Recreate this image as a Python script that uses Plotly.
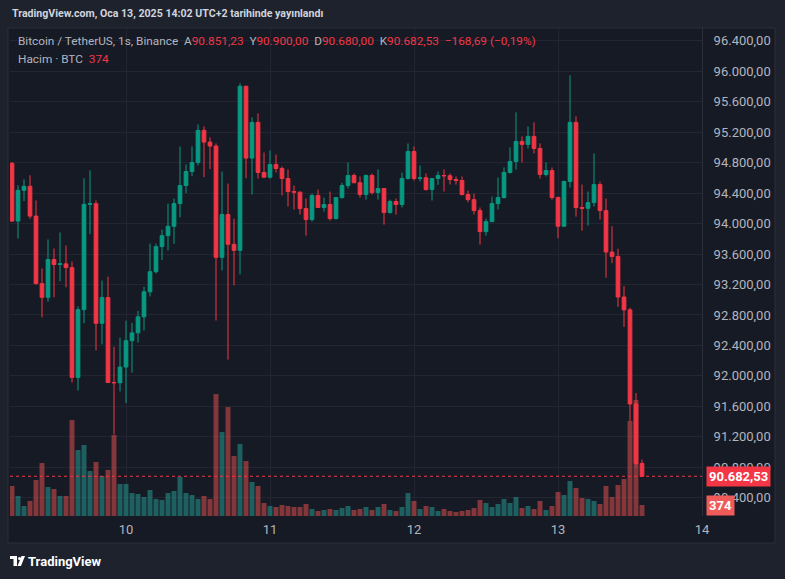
import pandas as pd
import plotly.graph_objects as go

# hourly BTCUSDT candles, Jan 9 05:00 -> Jan 13 14:00 (UTC+2)
times = pd.date_range("2025-01-09 05:00", periods=106, freq="h")

opens = [
    94791, 94033, 94436, 94489, 94098, 93212, 93032, 93528, 93462, 93471,
    93422, 91980, 92870, 94252, 94261, 92690, 93028, 91914, 91910, 92116,
    92462, 92565, 92775, 93104, 93368, 93697, 93841, 93965, 94262, 94499,
    94683, 94802, 95223, 95069, 95017, 93556, 94118, 93727, 93648, 95802,
    94859, 95328, 94670, 94609, 94775, 94723, 94591, 94420, 94412, 94196,
    94052, 94368, 94210, 94250, 94065, 94341, 94499, 94631, 94536, 94381,
    94631, 94407, 94460, 94144, 94289, 94250, 94591, 94946, 94591, 94600,
    94446, 94591, 94631, 94627, 94578, 94565, 94381, 94314, 94170, 93894,
    94025, 94262, 94341, 94670, 94815, 95078, 95039, 95144, 94986, 94644,
    94696, 94341, 93965, 94552, 95328, 94210, 94200, 94275, 94512, 94170,
    93626, 93568, 93036, 92867, 91631, 90851.23,
]
highs = [
    94808, 94502, 94581, 94633, 94304, 93410, 93791, 93673, 93883, 93712,
    93502, 92914, 94594, 94699, 94304, 93252, 93304, 92383, 92502, 92725,
    92696, 92854, 93170, 93736, 93736, 93920, 94262, 94328, 95012, 94775,
    95012, 95302, 95275, 95131, 95052, 94683, 94525, 94065, 95841, 95810,
    95394, 95446, 94933, 94960, 94907, 94750, 94710, 94499, 94420, 94328,
    94394, 94446, 94341, 94420, 94345, 94536, 94802, 94657, 94618, 94644,
    94657, 94710, 94465, 94315, 94328, 94670, 95052, 95012, 94762, 94657,
    94595, 94683, 94710, 94657, 94618, 94618, 94433, 94394, 94210, 94065,
    94354, 94604, 94736, 95000, 95460, 95144, 95275, 95328, 95052, 94802,
    94736, 94354, 94565, 95946, 95407, 94512, 94420, 94920, 94552, 94328,
    93965, 93670, 93178, 92894, 91775, 90900,
]
lows = [
    94020, 93804, 94296, 94063, 93199, 92769, 92975, 93032, 93243, 93164,
    91914, 91809, 92690, 93861, 92335, 92414, 91905, 91230, 91796, 91642,
    92043, 92438, 92596, 93043, 93345, 93522, 93648, 93734, 94082, 94398,
    94621, 94762, 94609, 94714, 92727, 93385, 92214, 93188, 93332, 94596,
    94381, 94591, 94600, 94591, 94670, 94368, 94223, 94183, 94118, 93841,
    94025, 94205, 94157, 94039, 94052, 94327, 94460, 94530, 94341, 94314,
    94381, 94314, 93986, 94131, 94117, 94210, 94578, 94565, 94552, 94433,
    94302, 94508, 94420, 94512, 94512, 94368, 94280, 94117, 93723, 93841,
    94020, 94183, 94328, 94657, 94709, 94802, 94986, 94920, 94591, 94618,
    94314, 93807, 93960, 94473, 94091, 93905, 93973, 94223, 94052, 93289,
    93480, 92906, 92644, 91398, 90810, 90680,
]
closes = [
    94033, 94436, 94489, 94098, 93212, 93032, 93528, 93462, 93471, 93422,
    91980, 92870, 94252, 94261, 92690, 93028, 91914, 91910, 92116, 92462,
    92565, 92775, 93104, 93368, 93697, 93841, 93965, 94262, 94499, 94683,
    94802, 95223, 95069, 95017, 93556, 94118, 93727, 93648, 95802, 94859,
    95328, 94670, 94609, 94775, 94723, 94591, 94420, 94412, 94196, 94052,
    94368, 94210, 94250, 94065, 94341, 94499, 94631, 94536, 94381, 94631,
    94407, 94460, 94144, 94289, 94250, 94591, 94946, 94591, 94600, 94446,
    94591, 94631, 94627, 94578, 94565, 94381, 94314, 94170, 93894, 94025,
    94262, 94341, 94670, 94815, 95078, 95039, 95144, 94986, 94644, 94696,
    94341, 93965, 94552, 95328, 94210, 94200, 94275, 94512, 94170, 93626,
    93568, 93036, 92867, 91631, 90851.23, 90682.53,
]
volumes = [
    1020, 680, 340, 510, 1224, 1802, 986, 918, 680, 680,
    3264, 2244, 2414, 1530, 1836, 1360, 1564, 2754, 1088, 1088,
    782, 748, 646, 884, 578, 544, 782, 850, 1326, 782,
    714, 578, 680, 578, 4148, 2856, 3706, 2040, 2448, 1870,
    1156, 1020, 442, 340, 306, 374, 340, 306, 306, 408,
    238, 170, 204, 238, 204, 272, 340, 204, 238, 306,
    204, 306, 408, 204, 170, 306, 782, 510, 238, 340,
    306, 170, 238, 170, 136, 170, 204, 272, 544, 442,
    306, 408, 578, 442, 646, 272, 340, 238, 510, 204,
    340, 816, 714, 1190, 952, 612, 578, 510, 408, 1020,
    646, 1054, 1258, 3230, 3944, 374,
]

price_ticks = [90400, 90800, 91200, 91600, 92000, 92400, 92800, 93200,
               93600, 94000, 94400, 94800, 95200, 95600, 96000, 96400]
price_labels = ["90.400,00", "90.800,00", "91.200,00", "91.600,00",
                "92.000,00", "92.400,00", "92.800,00", "93.200,00",
                "93.600,00", "94.000,00", "94.400,00", "94.800,00",
                "95.200,00", "95.600,00", "96.000,00", "96.400,00"]
day_ticks = ["2025-01-10", "2025-01-11", "2025-01-12", "2025-01-13", "2025-01-14"]
day_labels = ["10", "11", "12", "13", "14"]

last_price = closes[-1]
last_volume = volumes[-1]

UP = "#089981"
DOWN = "#f23645"
BG = "#161a25"
OUTER = "#1e222d"
GRID = "#232632"
TEXT = "#b2b5be"
FONT = "Roboto"

# plot area in pixels
L, R, T, B = 10, 702, 28, 516
W, H = 785, 579


def paper(x, y):
    return (x - L) / (R - L), (B - y) / (B - T)


vol_colors = ["rgba(38,166,154,0.5)" if c >= o else "rgba(239,83,80,0.5)"
              for o, c in zip(opens, closes)]

fig = go.Figure()

fig.add_trace(go.Bar(
    x=times, y=volumes, marker_color=vol_colors, marker_line_width=0,
    yaxis="y", hoverinfo="skip", showlegend=False,
))

fig.add_trace(go.Candlestick(
    x=times, open=opens, high=highs, low=lows, close=closes,
    yaxis="y2", showlegend=False,
    increasing=dict(line=dict(color=UP, width=1), fillcolor=UP),
    decreasing=dict(line=dict(color=DOWN, width=1), fillcolor=DOWN),
))

x0, y0 = paper(8, 543)
x1, y1 = paper(775, 28)
shapes = [
    # chart frame
    dict(type="rect", xref="paper", yref="paper", x0=x0, y0=y0, x1=x1, y1=y1,
         fillcolor=BG, line=dict(color="#2a2e39", width=1), layer="below"),
    # last price line
    dict(type="line", xref="paper", yref="y2", x0=0, x1=1,
         y0=last_price, y1=last_price, line=dict(color=DOWN, width=1, dash="dot")),
]

# little TradingView logo
lx0, ly0 = paper(10, 566)
lx1, ly1 = paper(17, 556)
shapes.append(dict(type="rect", xref="paper", yref="paper",
                   x0=lx0, y0=paper(0, 559)[1], x1=lx1, y1=ly1,
                   fillcolor="#ffffff", line_width=0))
shapes.append(dict(type="rect", xref="paper", yref="paper",
                   x0=paper(13.5, 0)[0], y0=ly0, x1=lx1, y1=ly1,
                   fillcolor="#ffffff", line_width=0))
cx0, cy0 = paper(18, 560)
cx1, cy1 = paper(21, 557)
shapes.append(dict(type="circle", xref="paper", yref="paper",
                   x0=cx0, y0=cy0, x1=cx1, y1=cy1,
                   fillcolor="#ffffff", line_width=0))
pa, pb = paper(21.5, 556), paper(25, 556)
pc, pd_ = paper(21, 566), paper(17.5, 566)
shapes.append(dict(type="path", xref="paper", yref="paper",
                   path=f"M {pa[0]},{pa[1]} L {pb[0]},{pb[1]} L {pc[0]},{pc[1]} L {pd_[0]},{pd_[1]} Z",
                   fillcolor="#ffffff", line_width=0))

red = f"<span style='color:{DOWN}'>"
legend1 = ("Bitcoin / TetherUS, 1s, Binance&nbsp;&nbsp;"
           f"A{red}90.851,23</span>&nbsp;&nbsp;Y{red}90.900,00</span>&nbsp;&nbsp;"
           f"D{red}90.680,00</span>&nbsp;&nbsp;K{red}90.682,53</span>&nbsp;&nbsp;"
           f"{red}−168,69 (−0,19%)</span>")
legend2 = f"Hacim · BTC&nbsp;&nbsp;{red}{last_volume}</span>"

annotations = []
hx, hy = paper(10, 14)
annotations.append(dict(xref="paper", yref="paper", x=hx, y=hy,
                        xanchor="left", yanchor="middle", showarrow=False,
                        text="<b>TradingView.com, Oca 13, 2025 14:02 UTC+2 tarihinde yayınlandı</b>",
                        font=dict(family=FONT, size=10.6, color="#d1d4dc")))
ax_, ay_ = paper(16, 41)
annotations.append(dict(xref="paper", yref="paper", x=ax_, y=ay_,
                        xanchor="left", yanchor="middle", showarrow=False,
                        text=legend1, font=dict(family=FONT, size=11.8, color=TEXT)))
bx_, by_ = paper(16, 59)
annotations.append(dict(xref="paper", yref="paper", x=bx_, y=by_,
                        xanchor="left", yanchor="middle", showarrow=False,
                        text=legend2, font=dict(family=FONT, size=11.8, color=TEXT)))
tx, ty = paper(26, 561)
annotations.append(dict(xref="paper", yref="paper", x=tx, y=ty,
                        xanchor="left", yanchor="middle", showarrow=False,
                        text="<b>TradingView</b>",
                        font=dict(family=FONT, size=13, color="#ffffff")))
# axis labels for last price and last volume
annotations.append(dict(xref="paper", yref="y2", x=1, y=last_price, xshift=4,
                        xanchor="left", yanchor="middle", showarrow=False,
                        text="<b>90.682,53</b>", bgcolor=DOWN, borderpad=2,
                        font=dict(family=FONT, size=13, color="#ffffff")))
annotations.append(dict(xref="paper", yref="y", x=1, y=last_volume, xshift=4,
                        xanchor="left", yanchor="middle", showarrow=False,
                        text=f"<b>{last_volume}</b>", bgcolor="#ef5b58", borderpad=2,
                        font=dict(family=FONT, size=13, color="#ffffff")))

fig.update_layout(
    width=W, height=H,
    margin=dict(l=L, r=W - R, t=T, b=H - B),
    paper_bgcolor=OUTER, plot_bgcolor=BG,
    font=dict(family=FONT, size=13, color=TEXT),
    showlegend=False, hovermode=False,
    bargap=0.17, boxgap=0.12,
    shapes=shapes, annotations=annotations,
    xaxis=dict(
        type="date", range=["2025-01-09 04:40", "2025-01-14 00:00"],
        tickvals=day_ticks, ticktext=day_labels,
        showgrid=True, gridcolor=GRID, gridwidth=1,
        zeroline=False, showline=False, ticks="",
        ticklabelstandoff=4, rangeslider=dict(visible=False),
        tickfont=dict(family=FONT, size=13, color=TEXT),
    ),
    yaxis=dict(
        range=[0, 16600], visible=False, showgrid=False, fixedrange=True,
    ),
    yaxis2=dict(
        overlaying="y", side="right", range=[90161, 96567],
        tickvals=price_ticks, ticktext=price_labels,
        showgrid=True, gridcolor=GRID, gridwidth=1, zeroline=False,
        showline=True, linecolor="#2a2e39", linewidth=1, ticks="",
        ticklabelstandoff=8,
        tickfont=dict(family=FONT, size=13, color=TEXT),
    ),
)

fig.write_html(
    "out.html",
    config={"displayModeBar": False},
    post_script="document.body.style.margin='0';document.body.style.background='#1e222d';",
)
